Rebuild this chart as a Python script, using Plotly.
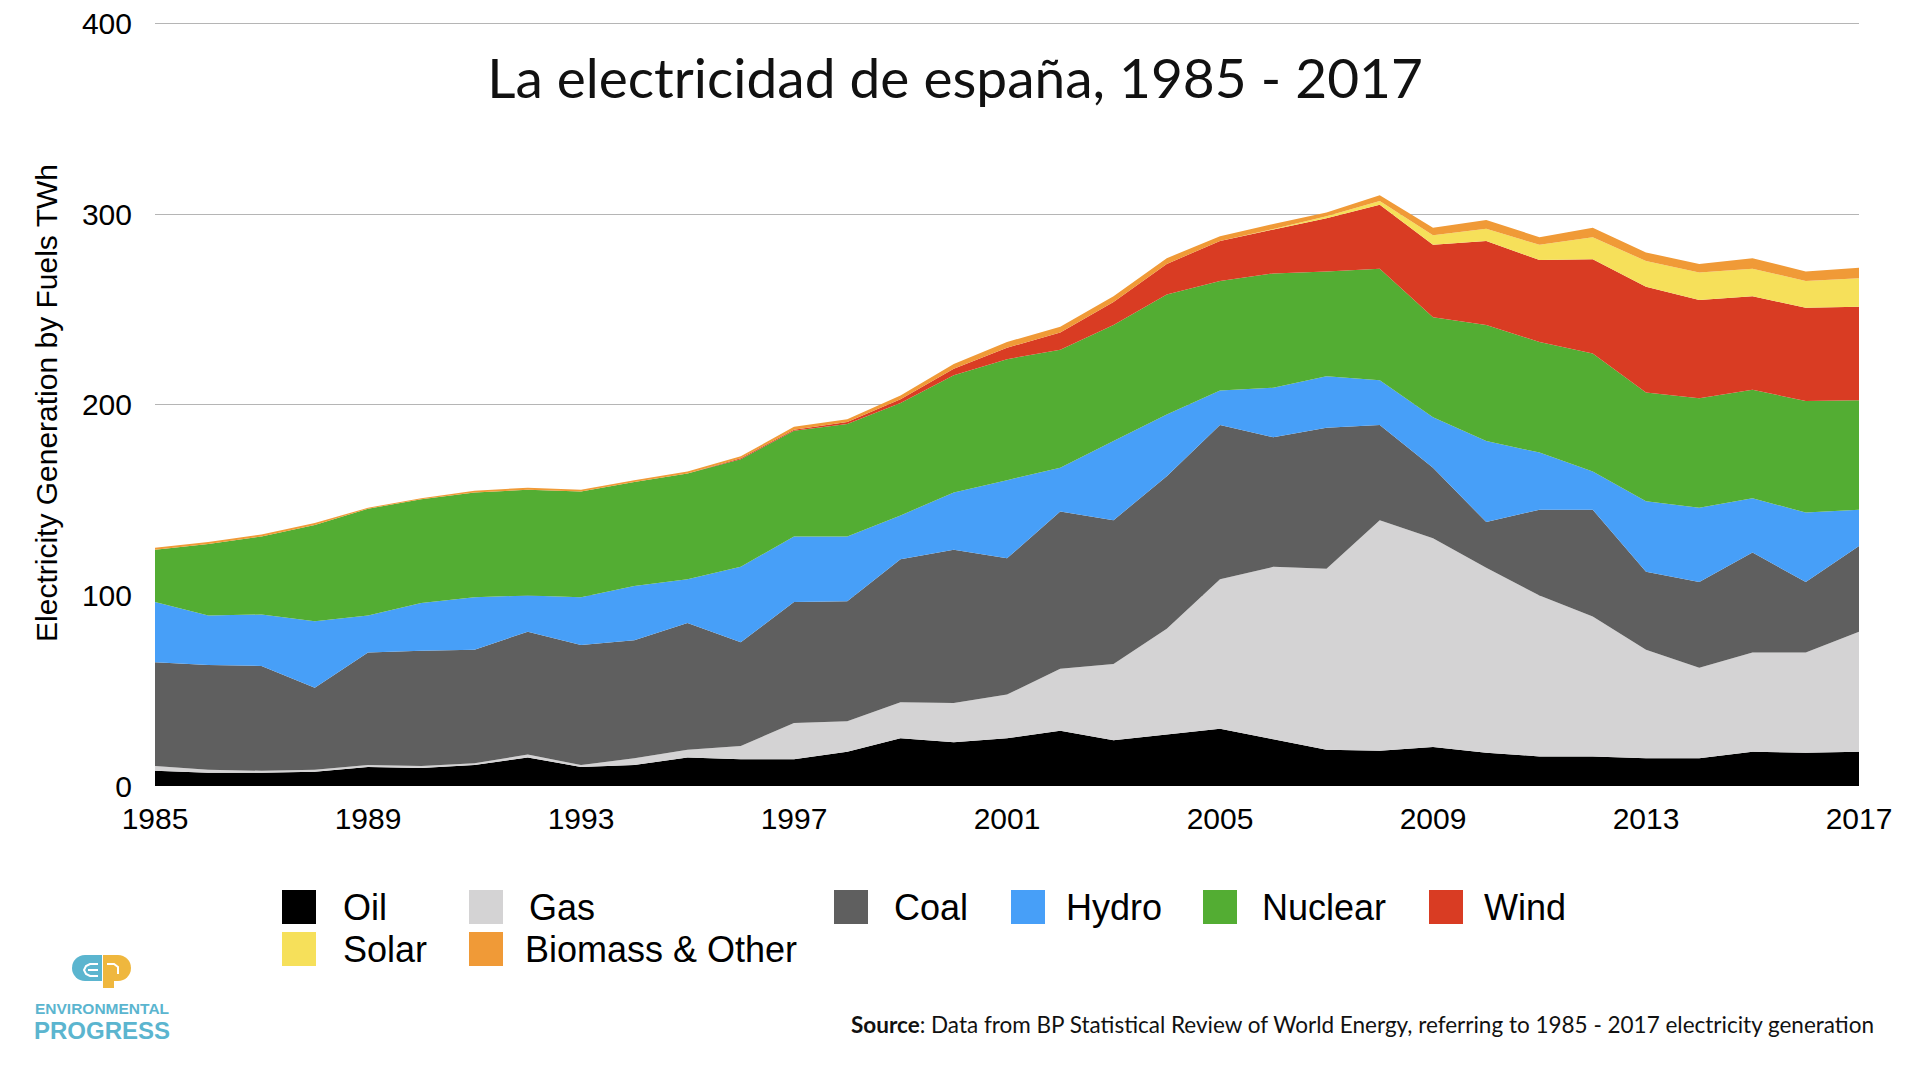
import plotly.graph_objects as go

# =====================================================
# Data (TWh)
# =====================================================

years = list(range(1985, 2018))

oil = [8, 7, 7, 7.5, 10, 9.5, 11, 15, 10, 11, 15, 14, 14, 18, 25, 23, 25, 29, 24, 27, 30,
       24.5, 19, 18.5, 20.5, 17.5, 15.5, 15.5, 14.5, 14.5, 18, 17.5, 18]
gas = [2.5, 1.5, 1, 1, 1, 1, 1, 1.5, 1, 3.5, 4, 7, 19, 16, 19, 20.5, 23, 32.5, 40, 55.5, 78.5,
       90.5, 95, 121, 109.5, 97, 84.5, 73.5, 57, 47.5, 52, 52.5, 63]
coal = [54.5, 55, 55, 43, 59, 60.5, 59.5, 64.5, 63, 62, 66.5, 54.5, 63.5, 63, 75, 80.5, 71.5, 82.5, 75.5, 80, 81,
        68, 74, 50, 37, 24, 45, 56, 41, 45, 52.5, 37, 45]
hydro = [31.5, 26, 27, 35, 19.5, 25, 27.5, 19, 25, 28.5, 23, 39.5, 34.5, 34, 23, 30, 41, 23, 41.5, 32.5, 18,
         26, 27, 23.5, 26.5, 42.5, 30, 20, 37, 39, 28.5, 36.5, 19]
nuclear = [27.5, 37.5, 41, 50.5, 56, 54.5, 55, 55.5, 55.5, 54.5, 55.5, 56.5, 55.5, 59, 59, 61.5, 63.5, 62, 61, 63, 57.5,
           60, 55, 58.5, 52.5, 61, 58, 62, 57, 57.5, 57, 58.5, 57.5]
wind = [0, 0, 0, 0, 0, 0, 0, 0, 0, 0, 0, 0.5, 0.5, 1, 2, 3.5, 6, 9, 12, 16, 21,
        23, 28, 33.5, 38, 44, 43, 49.5, 55.5, 51.5, 49, 49, 49]
solar = [0, 0, 0, 0, 0, 0, 0, 0, 0, 0, 0, 0, 0, 0, 0, 0, 0, 0, 0, 0, 0,
         0.3, 1, 2, 5, 6.5, 8, 11.5, 13.5, 14.5, 14.5, 14, 15]
biomass = [1, 1, 1, 1, 0.5, 0.5, 1, 1, 1, 1, 1, 1, 1.5, 1.5, 2, 2.5, 3, 3, 3, 3, 2.5,
           2.7, 2, 3, 4, 4.5, 4, 5, 4.5, 4.5, 5.5, 5, 5.5]

names = ["Oil", "Gas", "Coal", "Hydro", "Nuclear", "Wind", "Solar", "Biomass & Other"]
series = [oil, gas, coal, hydro, nuclear, wind, solar, biomass]
colors = ["#000000", "#D4D3D4", "#5F5F5F", "#479FF8", "#53AD33", "#D93C23", "#F6E05A", "#F09A37"]

x_ticks = list(range(1985, 2018, 4))
y_ticks = [0, 100, 200, 300, 400]

# =====================================================
# Helpers: page pixels to paper coordinates
# =====================================================

# the browser's body margin pushes the figure 8px in from the window corner
BODY = 8
W, H = 1920 - 2 * BODY, 1080 - 2 * BODY
# y range runs a little past 400 so the top gridline gets drawn
LEFT, RIGHT, TOP, BOTTOM = 155, 1859, 20, 786
Y_MAX = 402


def px(x):
    return (x - LEFT) / (RIGHT - LEFT)


def py(y):
    return (BOTTOM - y) / (BOTTOM - TOP)


# =====================================================
# Stacked areas
# =====================================================

fig = go.Figure()

for name, values, color in zip(names, series, colors):
    fig.add_trace(go.Scatter(
        x=years,
        y=values,
        name=name,
        mode="lines",
        stackgroup="fuels",
        line=dict(width=0, color=color),
        fillcolor=color,
        showlegend=False,
    ))

fig.update_layout(
    width=W,
    height=H,
    autosize=False,
    margin=dict(l=LEFT - BODY, r=W + BODY - RIGHT, t=TOP - BODY, b=H + BODY - BOTTOM, pad=0, autoexpand=False),
    paper_bgcolor="white",
    plot_bgcolor="white",
    font=dict(family="Liberation Sans", color="#000000"),
    title=dict(
        text="La electricidad de españa, 1985 - 2017",
        font=dict(family="Lato", size=55, color="#111111"),
        xref="container", yref="container",
        x=(955 - BODY) / W, y=1 - (78.5 - BODY) / H,
        xanchor="center", yanchor="middle",
    ),
    xaxis=dict(
        range=[1985, 2017],
        tickvals=x_ticks,
        tickfont=dict(size=30),
        ticklabelstandoff=12,
        ticklabeloverflow="allow",
        showgrid=False,
        zeroline=False,
        showline=False,
        ticks="",
    ),
    yaxis=dict(
        range=[0, Y_MAX],
        tickvals=y_ticks,
        tickfont=dict(size=30),
        ticklabelstandoff=22,
        ticklabeloverflow="allow",
        showgrid=True,
        gridcolor="#B5B5B5",
        gridwidth=1,
        zeroline=False,
        showline=False,
        ticks="",
        title=dict(
            text="Electricity Generation by Fuels TWh",
            font=dict(size=30),
            standoff=15,
        ),
    ),
)

# =====================================================
# Hand-placed legend (uneven columns in the original)
# =====================================================

legend_rows = [907, 907, 907, 907, 907, 907, 949, 949]
legend_swatch_x = [282, 469, 834, 1011, 1203, 1429, 282, 469]
legend_text_x = [341, 527, 892, 1064, 1260, 1482, 341, 523]

for name, color, row, sx, tx in zip(names, colors, legend_rows, legend_swatch_x, legend_text_x):
    fig.add_shape(
        type="rect", xref="paper", yref="paper",
        x0=px(sx), x1=px(sx + 34), y0=py(row - 17), y1=py(row + 17),
        fillcolor=color, line_width=0,
    )
    fig.add_annotation(
        text=name, xref="paper", yref="paper",
        x=px(tx), y=py(row), xanchor="left", yanchor="middle",
        showarrow=False, font=dict(size=36),
    )

# =====================================================
# Source line and logo
# =====================================================

fig.add_annotation(
    text="<b>Source</b>: Data from BP Statistical Review of World Energy, referring to 1985 - 2017 electricity generation",
    xref="paper", yref="paper",
    x=px(1876), y=py(1024), xanchor="right", yanchor="middle",
    showarrow=False, font=dict(family="Lato", size=22.5, color="#111111"),
)

LOGO_BLUE = "#5BB5CF"
LOGO_YELLOW = "#EFB73E"


def logo_box(kind, x0, x1, y0, y1, color):
    fig.add_shape(type=kind, xref="paper", yref="paper",
                  x0=px(x0), x1=px(x1), y0=py(y0), y1=py(y1),
                  fillcolor=color, line_width=0)


def logo_stroke(points):
    path = "M " + " L ".join(f"{px(x)} {py(y)}" for x, y in points)
    fig.add_shape(type="path", xref="paper", yref="paper", path=path,
                  line=dict(color="white", width=2))


logo_box("circle", 72, 98, 955, 981, LOGO_BLUE)
logo_box("rect", 85, 102, 955, 981, LOGO_BLUE)
logo_box("rect", 103, 118, 955, 981, LOGO_YELLOW)
logo_box("circle", 105, 131, 955, 981, LOGO_YELLOW)
logo_box("rect", 103, 114, 981, 988, LOGO_YELLOW)
logo_stroke([(98, 964), (90, 964), (86, 966), (84, 970), (86, 974), (90, 976), (98, 976)])
logo_stroke([(88, 970), (98, 970)])
logo_stroke([(107, 964), (114, 964), (118, 967), (118, 974)])

fig.add_annotation(text="<b>ENVIRONMENTAL</b>", xref="paper", yref="paper",
                   x=px(102), y=py(1008), xanchor="center", yanchor="middle", showarrow=False,
                   font=dict(size=15.5, color=LOGO_BLUE))
fig.add_annotation(text="<b>PROGRESS</b>", xref="paper", yref="paper",
                   x=px(102), y=py(1031), xanchor="center", yanchor="middle", showarrow=False,
                   font=dict(size=24, color=LOGO_BLUE))

fig.write_html("out.html")
